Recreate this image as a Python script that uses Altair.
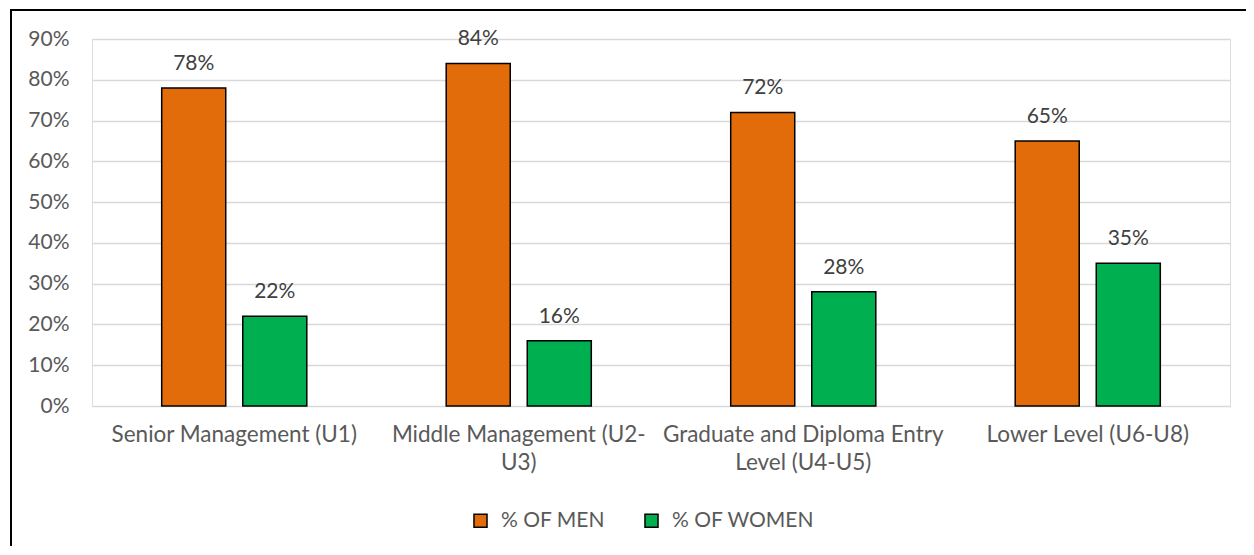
import json
import altair as alt
import pandas as pd

categories = [
    "Senior Management (U1)",
    "Middle Management (U2-U3)",
    "Graduate and Diploma Entry Level (U4-U5)",
    "Lower Level (U6-U8)",
]
label_lines = [
    ["Senior Management (U1)"],
    ["Middle Management (U2-", "U3)"],
    ["Graduate and Diploma Entry", "Level (U4-U5)"],
    ["Lower Level (U6-U8)"],
]
series = ["% OF MEN", "% OF WOMEN"]
men = [78, 84, 72, 65]
women = [22, 16, 28, 35]
colors = ["#E36C0A", "#00B050"]

rows = []
for c, m, w in zip(categories, men, women):
    rows.append({"cat": c, "series": series[0], "val": m / 100})
    rows.append({"cat": c, "series": series[1], "val": w / 100})
df = pd.DataFrame(rows)

expr = "''"
for c, lines in reversed(list(zip(categories, label_lines))):
    expr = f"datum.value == {json.dumps(c)} ? {json.dumps(lines)} : ({expr})"

FONT = "Lato"
FS = 21

x_enc = alt.X(
    "cat:N",
    sort=categories,
    scale=alt.Scale(paddingInner=0.49, paddingOuter=0.245),
    axis=alt.Axis(
        title=None, labelAngle=0, domain=False, ticks=False, labelPadding=17,
        labelExpr=expr, labelLineHeight=28, labelFontSize=22.5, labelColor="#595959",
        labelFont=FONT, labelLimit=400,
    ),
)
xo_enc = alt.XOffset("series:N", sort=series, scale=alt.Scale(paddingInner=0.21, paddingOuter=0))
y_enc = alt.Y(
    "val:Q",
    scale=alt.Scale(domain=[0, 0.9], nice=False),
    axis=alt.Axis(
        title=None, format=".0%", values=[i / 10 for i in range(10)], domain=False, ticks=False,
        gridColor="#D9D9D9", gridWidth=1.5, labelPadding=23, labelFontSize=FS,
        labelColor="#595959", labelFont=FONT,
    ),
)

base = alt.Chart(df)
bars = base.mark_bar(stroke="black", strokeWidth=1.5).encode(
    x=x_enc,
    xOffset=xo_enc,
    y=y_enc,
    color=alt.Color(
        "series:N",
        sort=series,
        scale=alt.Scale(domain=series, range=colors),
        legend=alt.Legend(
            title=None, orient="none", legendX=378, legendY=471, direction="horizontal",
            symbolType="square", symbolSize=170, symbolStrokeColor="black", symbolStrokeWidth=1.5,
            labelFontSize=FS, labelColor="#595959", labelFont=FONT, columnPadding=36,
            labelOffset=10,
        ),
    ),
)
texts = base.mark_text(baseline="bottom", dy=-14, fontSize=FS, font=FONT, color="#404040").encode(
    x=alt.X("cat:N", sort=categories),
    xOffset=alt.XOffset("series:N", sort=series),
    y="val:Q",
    text=alt.Text("val:Q", format=".0%"),
)
border = alt.Chart(pd.DataFrame({"a": [0]})).mark_rect(
    fillOpacity=0, stroke="black", strokeWidth=2
).encode(
    x=alt.value(-81), x2=alt.value(1250), y=alt.value(-29), y2=alt.value(600)
)

chart = alt.layer(bars, texts, border).properties(
    width=1138, height=367,
    autosize=alt.AutoSizeParams(type="none"),
    padding={"left": 84, "top": 31, "right": 16, "bottom": 140},
).configure_view(stroke=None).configure(font=FONT)

chart.save("out.html", embed_options={"renderer": "svg", "actions": False})
